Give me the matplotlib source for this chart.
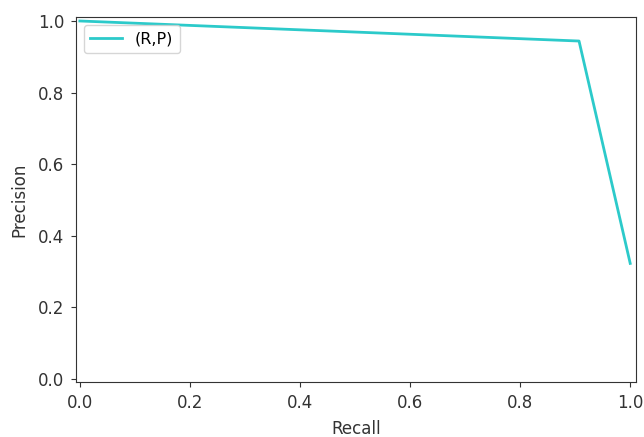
import matplotlib
matplotlib.use("Agg")
import matplotlib.pyplot as plt

recall = [0.0, 0.907, 1.0]
precision = [1.0, 0.944, 0.323]

fig = plt.figure(figsize=(6.44, 4.37), dpi=100)
ax = fig.add_axes([0.118, 0.126, 0.870, 0.835])
ax.plot(recall, precision, color='#2ccaca', lw=2, label='(R,P)')
ax.set_xlim(-0.007, 1.011)
ax.set_ylim(-0.008, 1.011)
ax.set_xticks([0.0, 0.2, 0.4, 0.6, 0.8, 1.0])
ax.set_yticks([0.0, 0.2, 0.4, 0.6, 0.8, 1.0])
ax.tick_params(labelsize=12, colors='#333333', pad=5)
ax.set_xlabel('Recall', fontsize=12, color='#333333', labelpad=6)
ax.set_ylabel('Precision', fontsize=12, color='#333333', labelpad=7)
for s in ax.spines.values():
    s.set_color('#333333')
ax.legend(loc='upper left', fontsize=11.5)
fig.savefig('out.png', dpi=100)
